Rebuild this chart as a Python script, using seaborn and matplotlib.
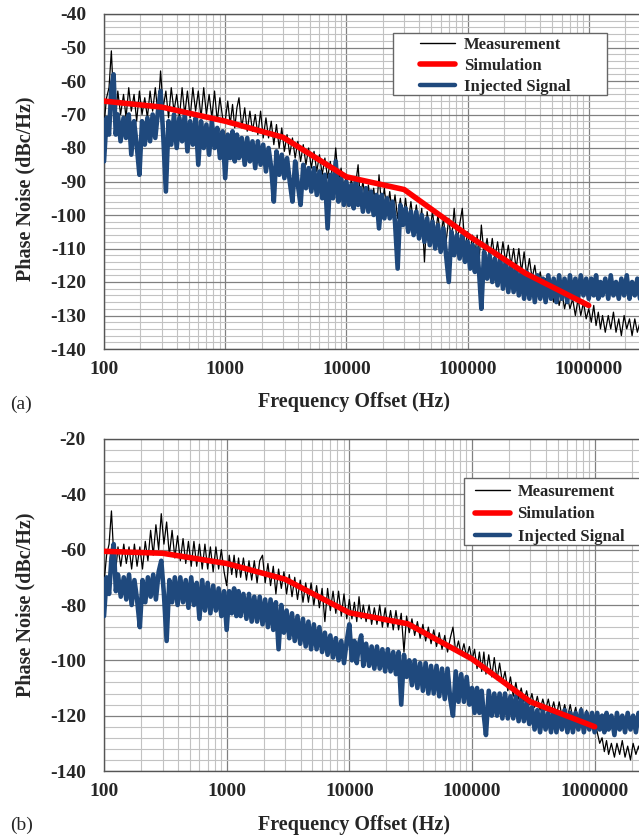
import pandas as pd
import seaborn as sns
import matplotlib.pyplot as plt
from matplotlib.ticker import FixedLocator, NullFormatter, LogLocator
from matplotlib.lines import Line2D
from matplotlib.patches import Rectangle

sns.set_style("white")
plt.rcParams['font.family'] = ['Liberation Serif', 'DejaVu Serif']
plt.rcParams['font.weight'] = 'bold'

# frequency offsets (Hz) of the read-off points, shared by both panels
freq = [100, 105, 110, 115, 120, 125, 130, 137, 145, 152, 160, 168, 177, 186, 196, 206, 217, 228, 240, 252, 265, 279, 293,
        308, 324, 341, 359, 378, 398, 419, 441, 464, 488, 514, 541, 570, 600, 632, 665, 700, 737, 776, 817, 860, 905, 953,
        1000, 1050, 1100, 1150, 1200, 1250, 1300, 1370, 1450, 1520, 1600, 1680, 1770, 1860, 1960, 2060, 2170, 2280, 2400, 2520, 2650, 2790, 2930,
        3080, 3240, 3410, 3590, 3780, 3980, 4190, 4410, 4640, 4880, 5140, 5410, 5700, 6000, 6320, 6650, 7000, 7370, 7760, 8170, 8600, 9050, 9530,
        10000, 10500, 11000, 11500, 12000, 12500, 13000, 13700, 14500, 15200, 16000, 16800, 17700, 18600, 19600, 20600, 21700, 22800, 24000, 25200, 26500, 27900, 29300,
        30800, 32400, 34100, 35900, 37800, 39800, 41900, 44100, 46400, 48800, 51400, 54100, 57000, 60000, 63200, 66500, 70000, 73700, 77600, 81700, 86000, 90500, 95300,
        100000, 105000, 110000, 115000, 120000, 125000, 130000, 137000, 145000, 152000, 160000, 168000, 177000, 186000, 196000, 206000, 217000, 228000, 240000, 252000, 265000, 279000, 293000,
        308000, 324000, 341000, 359000, 378000, 398000, 419000, 441000, 464000, 488000, 514000, 541000, 570000, 600000, 632000, 665000, 700000, 737000, 776000, 817000, 860000, 905000, 953000,
        1000000, 1050000, 1100000, 1150000, 1200000, 1250000, 1300000, 1370000, 1450000, 1520000, 1600000, 1680000, 1770000, 1860000, 1960000, 2060000, 2170000, 2280000, 2400000, 2520000, 2650000]

# panel (a)
meas_a = [-73, -65, -62, -51, -66, -71, -63, -70, -64, -71, -62, -69, -64, -72, -63, -70, -65, -71, -63, -69, -62, -70, -57,
          -68, -63, -71, -62, -69, -64, -71, -62, -70, -63, -71, -62, -69, -63, -71, -62, -70, -64, -71, -63, -72, -65, -71,
          -72, -66, -73, -67, -74, -68, -65, -74, -68, -75, -69, -75, -70, -76, -69, -77, -71, -77, -72, -79, -73, -80, -74,
          -81, -76, -82, -77, -83, -78, -84, -79, -85, -80, -86, -81, -87, -82, -88, -83, -89, -84, -90, -80, -90, -86, -92,
          -88, -95, -89, -96, -90, -85, -95, -90, -97, -91, -98, -92, -99, -88, -98, -92, -100, -93, -100, -94, -101, -95, -102,
          -95, -102, -96, -103, -97, -104, -98, -114, -99, -105, -99, -106, -100, -107, -101, -108, -101, -108, -98, -108, -103, -98, -110,
          -105, -111, -106, -112, -106, -113, -103, -112, -107, -113, -107, -113, -108, -114, -108, -114, -109, -115, -110, -116, -110, -117, -111,
          -118, -113, -119, -115, -121, -117, -122, -119, -124, -121, -126, -122, -127, -123, -128, -124, -128, -125, -130, -125, -130, -126, -131,
          -128, -132, -127, -133, -129, -134, -130, -135, -130, -134, -129, -135, -131, -136, -130, -134, -131, -136, -131, -135, -132]
inj_a = [-84, -71, -76, -62, -58, -76, -70, -78, -71, -77, -70, -82, -72, -79, -88, -72, -79, -71, -78, -70, -77, -69, -63,
         -76, -93, -72, -79, -70, -80, -71, -78, -70, -81, -72, -79, -71, -85, -72, -80, -73, -82, -72, -80, -74, -83, -75,
         -89, -76, -83, -75, -84, -76, -83, -77, -85, -77, -84, -78, -86, -78, -85, -79, -87, -80, -86, -96, -81, -88, -82,
         -89, -83, -90, -96, -84, -91, -97, -85, -92, -86, -93, -86, -94, -87, -95, -88, -104, -88, -95, -84, -96, -89, -97,
         -90, -97, -91, -98, -89, -97, -92, -99, -92, -99, -93, -100, -94, -104, -94, -101, -95, -101, -96, -102, -116, -97, -103,
         -98, -105, -99, -106, -99, -107, -100, -108, -101, -109, -102, -110, -103, -111, -104, -112, -120, -105, -112, -106, -113, -106, -114,
         -108, -116, -109, -117, -110, -118, -128, -111, -119, -112, -120, -113, -121, -113, -122, -114, -123, -115, -123, -116, -124, -117, -125,
         -117, -125, -118, -126, -118, -125, -119, -126, -118, -125, -119, -126, -118, -125, -119, -126, -118, -125, -119, -125, -118, -124, -119,
         -125, -119, -124, -118, -125, -120, -124, -119, -125, -118, -124, -120, -125, -119, -124, -118, -125, -120, -124, -119, -125]
sim_freq = [100, 300, 1000, 3000, 10000, 30000, 100000, 300000, 1000000]
sim_a = [-66, -67.8, -72, -76.8, -88.6, -92.4, -106, -117.4, -127]

# panel (b)
meas_b = [-72, -62, -58, -46, -62, -67, -59, -66, -58, -65, -59, -67, -58, -66, -59, -67, -57, -64, -53, -62, -51, -60, -47,
          -58, -50, -62, -53, -63, -55, -64, -56, -65, -57, -66, -57, -66, -58, -67, -58, -67, -59, -68, -59, -67, -60, -68,
          -73, -62, -69, -62, -70, -63, -70, -63, -71, -64, -71, -64, -72, -64, -62, -72, -65, -73, -66, -76, -67, -74, -68,
          -76, -69, -77, -70, -78, -71, -79, -72, -79, -72, -80, -73, -81, -74, -86, -74, -82, -75, -83, -75, -84, -76, -85,
          -78, -85, -79, -86, -77, -85, -80, -86, -80, -87, -81, -87, -80, -88, -81, -88, -82, -89, -82, -89, -83, -97, -84,
          -90, -85, -91, -86, -92, -87, -93, -88, -94, -89, -95, -90, -96, -91, -97, -92, -88, -97, -93, -98, -94, -99, -95,
          -100, -96, -103, -97, -104, -97, -105, -98, -106, -99, -107, -101, -108, -104, -111, -106, -113, -108, -114, -110, -115, -111, -116,
          -112, -117, -113, -118, -114, -118, -114, -119, -115, -120, -115, -120, -116, -121, -116, -121, -117, -122, -117, -122, -118, -123, -119,
          -121, -126, -130, -128, -133, -129, -134, -130, -135, -130, -134, -129, -135, -131, -136, -130, -134, -131, -135, -130, -134]
inj_b = [-84, -70, -76, -63, -58, -75, -69, -77, -70, -78, -69, -80, -71, -78, -88, -71, -79, -70, -77, -69, -78, -68, -64,
         -76, -93, -71, -79, -70, -80, -70, -79, -71, -81, -70, -80, -72, -85, -71, -82, -72, -83, -73, -82, -74, -84, -75,
         -89, -75, -83, -74, -84, -75, -84, -76, -85, -76, -86, -77, -86, -77, -87, -78, -88, -78, -89, -79, -96, -80, -90,
         -82, -92, -83, -93, -84, -94, -85, -95, -86, -96, -87, -96, -88, -97, -90, -98, -91, -99, -92, -100, -93, -101, -93,
         -87, -100, -93, -101, -94, -91, -102, -94, -102, -95, -103, -95, -103, -96, -104, -96, -104, -97, -105, -97, -116, -98, -106,
         -100, -109, -100, -110, -101, -111, -101, -112, -102, -112, -102, -113, -103, -114, -103, -114, -120, -104, -115, -105, -115, -106, -116,
         -110, -119, -110, -119, -111, -120, -127, -111, -120, -112, -120, -112, -121, -112, -121, -113, -121, -113, -122, -114, -122, -115, -123,
         -117, -125, -118, -126, -118, -125, -119, -126, -118, -126, -119, -125, -118, -126, -119, -126, -119, -125, -118, -126, -119, -125, -119,
         -126, -119, -125, -120, -126, -119, -125, -120, -127, -119, -125, -120, -126, -119, -125, -120, -126, -119, -125, -120, -126]
sim_b = [-60.6, -61.3, -65, -70.7, -82.8, -86.8, -99.5, -115, -124]

blue = '#1F497D'
W, H = 639, 836


def draw_panel(ax, meas, inj, sim, ylim, ymajor, yminor, xmax, ylab_y, xlab_y):
    df_m = pd.DataFrame({'f': freq, 'v': meas})
    df_i = pd.DataFrame({'f': freq, 'v': inj})
    df_s = pd.DataFrame({'f': sim_freq, 'v': sim})
    sns.lineplot(data=df_m, x='f', y='v', ax=ax, color='black', lw=0.9, sort=False, errorbar=None, zorder=3)
    sns.lineplot(data=df_i, x='f', y='v', ax=ax, color=blue, lw=3.3, sort=False, errorbar=None, zorder=4)
    sns.lineplot(data=df_s, x='f', y='v', ax=ax, color='red', lw=4, sort=False, errorbar=None, zorder=5)
    ax.set_xscale('log')
    ax.set_xlim(100, xmax)
    ax.set_ylim(*ylim)
    ax.xaxis.set_major_locator(FixedLocator([100, 1000, 10000, 100000, 1000000]))
    ax.xaxis.set_minor_locator(LogLocator(base=10, subs=range(2, 10), numticks=20))
    ax.xaxis.set_minor_formatter(NullFormatter())
    ax.set_xticklabels(['100', '1000', '10000', '100000', '1000000'])
    ax.set_yticks(ymajor)
    ax.set_yticks(yminor, minor=True)
    ax.set_yticklabels([str(v) for v in ymajor])
    for lab in ax.get_xticklabels() + ax.get_yticklabels():
        lab.set_fontfamily('Liberation Serif')
        lab.set_fontweight('bold')
        lab.set_fontsize(14)
    ax.grid(which='major', color='#808080', lw=0.9)
    ax.grid(which='minor', color='#c2c2c2', lw=0.8)
    ax.tick_params(axis='x', which='both', length=0, pad=9)
    ax.tick_params(axis='y', which='both', length=0, pad=13)
    for side in ['left', 'bottom', 'top']:
        ax.spines[side].set_color('#555555')
        ax.spines[side].set_linewidth(1.0)
    ax.spines['right'].set_visible(False)
    ax.set_xlabel('Frequency Offset (Hz)', fontsize=14.5, fontweight='bold')
    ax.set_ylabel('Phase Noise (dBc/Hz)', fontsize=14.5, fontweight='bold')
    ax.xaxis.set_label_coords(0.468, xlab_y)
    ax.yaxis.set_label_coords(-0.129, ylab_y)


fig = plt.figure(figsize=(W / 100, H / 100), dpi=100)
ax_a = fig.add_axes([104 / W, 1 - 349 / H, 1 - 104 / W, 335 / H])
ax_b = fig.add_axes([104 / W, 1 - 771 / H, 1 - 104 / W, 332 / H])

draw_panel(ax_a, meas_a, inj_a, sim_a, (-140, -40), list(range(-140, -39, 10)),
           [v for v in range(-140, -39, 2) if v % 10 != 0], 2.6e6, 0.479, -0.128)
draw_panel(ax_b, meas_b, inj_b, sim_b, (-140, -20), list(range(-140, -19, 20)),
           [v for v in range(-140, -19, 4) if v % 20 != 0], 2.3e6, 0.5, -0.1325)

handles = [Line2D([], [], color='black', lw=1.0),
           Line2D([], [], color='red', lw=4),
           Line2D([], [], color=blue, lw=3.2)]
names = ['Measurement', 'Simulation', 'Injected Signal']
leg_props = dict(family='Liberation Serif', weight='bold', size=12)

# legend boxes (Excel style, wide padding)
for x0, y0, x1, y1 in [(393, 33, 607, 95), (464, 478, 680, 545)]:
    fig.add_artist(Rectangle((x0 / W, 1 - y1 / H), (x1 - x0) / W, (y1 - y0) / H, transform=fig.transFigure,
                             facecolor='white', edgecolor='#666666', lw=1.0, zorder=4))

fig.legend(handles, names, loc='upper left', bbox_to_anchor=(420 / W, 1 - 37 / H),
           prop=leg_props, frameon=False, handlelength=2.1, handletextpad=0.55,
           borderpad=0, labelspacing=0.3, borderaxespad=0).set_zorder(5)
fig.legend(handles, names, loc='upper left', bbox_to_anchor=(475 / W, 1 - 484 / H),
           prop=leg_props, frameon=False, handlelength=2.1, handletextpad=0.45,
           borderpad=0, labelspacing=0.39, borderaxespad=0).set_zorder(5)

fig.text(10 / W, 1 - 404 / H, '(a)', fontsize=14, fontweight='normal', va='center', ha='left')
fig.text(10 / W, 1 - 825 / H, '(b)', fontsize=14, fontweight='normal', va='center', ha='left')

fig.savefig('out.png', dpi=100)
